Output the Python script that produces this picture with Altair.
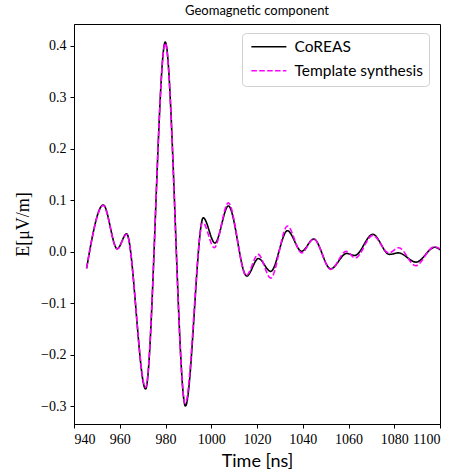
import altair as alt
import pandas as pd

# CoREAS (black solid) - read at extrema
t_coreas = [945.5, 952.8, 958.9, 963.0, 971.3, 979.9, 988.7, 996.5, 1001.6, 1007.5,
            1015.5, 1020.6, 1026.0, 1033.3, 1039.5, 1044.8, 1052.2, 1059.2, 1062.8,
            1070.6, 1077.9, 1081.8, 1089.5, 1097.8, 1100.0]
e_coreas = [-0.032, 0.091, 0.006, 0.035, -0.266, 0.407, -0.299, 0.066, 0.017, 0.089,
            -0.047, -0.013, -0.038, 0.041, 0.001, 0.025, -0.033, -0.003, -0.007,
            0.034, -0.005, -0.002, -0.020, 0.009, 0.004]

# Template synthesis (magenta dashed)
t_template = [945.5, 952.8, 958.9, 963.0, 971.3, 979.9, 988.6, 996.3, 1001.3, 1007.5,
              1015.3, 1020.5, 1026.0, 1033.3, 1039.5, 1044.8, 1052.2, 1059.0, 1063.0,
              1070.6, 1077.6, 1082.0, 1089.3, 1097.5, 1100.0]
e_template = [-0.032, 0.090, 0.005, 0.034, -0.263, 0.405, -0.294, 0.057, 0.008, 0.095,
              -0.046, -0.005, -0.051, 0.050, -0.002, 0.025, -0.034, 0.001, -0.012,
              0.032, -0.002, 0.008, -0.027, 0.010, 0.006]

series_names = ["CoREAS", "Template synthesis"]
x_ticks = [940, 960, 980, 1000, 1020, 1040, 1060, 1080, 1100]
y_ticks = [-0.3, -0.2, -0.1, 0.0, 0.1, 0.2, 0.3, 0.4]

df = pd.concat([
    pd.DataFrame({"t": t_coreas, "e": e_coreas, "series": series_names[0]}),
    pd.DataFrame({"t": t_template, "e": e_template, "series": series_names[1]}),
])

x_enc = alt.X("t:Q", scale=alt.Scale(domain=[940, 1100], nice=False, zero=False),
              axis=alt.Axis(values=x_ticks, title="Time [ns]", format="d"))
y_enc = alt.Y("e:Q", scale=alt.Scale(domain=[-0.334, 0.442], nice=False, zero=False),
              axis=alt.Axis(values=y_ticks, title="E[μV/m]", format=".1f",
                            titleFont="Liberation Serif", titleFontSize=18,
                            titlePadding=8))


def make_legend():
    return alt.Legend(title=None, orient="none", legendX=168, legendY=9,
                      symbolType="M-1,0H7", symbolSize=76.6,
                      symbolStrokeWidth=1.6,
                      labelFont="Lato", labelFontSize=15.5,
                      labelColor="#000000", labelOffset=31,
                      rowPadding=7, padding=6, cornerRadius=4,
                      strokeColor="#d0d0d0",
                      fillColor="rgba(255,255,255,0.85)")


color_enc = alt.Color("series:N",
                      scale=alt.Scale(domain=series_names, range=["#000000", "#ff00ff"]),
                      legend=make_legend())
dash_enc = alt.StrokeDash("series:N",
                          scale=alt.Scale(domain=series_names, range=[[1, 0], [5.5, 2.4]]),
                          legend=make_legend())

base = alt.Chart(df)
black = base.transform_filter(alt.datum.series == series_names[0]).mark_line(
    interpolate="monotone", strokeWidth=1.6).encode(x=x_enc, y=y_enc, color=color_enc, strokeDash=dash_enc)
magenta = base.transform_filter(alt.datum.series == series_names[1]).mark_line(
    interpolate="monotone", strokeWidth=1.6).encode(x=x_enc, y=y_enc, color=color_enc, strokeDash=dash_enc)

chart = alt.layer(black, magenta).properties(
    width=366, height=400,
    title=alt.TitleParams("Geomagnetic component", font="Lato", fontSize=13,
                          fontWeight="normal", color="#000000", offset=6),
    autosize=alt.AutoSizeParams(type="none"),
    padding={"left": 74, "top": 24, "right": 15, "bottom": 48},
).configure_view(stroke="#000000", strokeWidth=1).configure_axis(
    grid=False, domainColor="#000000", tickColor="#000000", tickSize=4,
    labelFont="Liberation Serif", labelFontSize=14, labelColor="#000000",
    titleFont="Lato", titleFontSize=18, titleFontWeight="normal", titleColor="#000000",
    labelPadding=4
).configure_axisX(titlePadding=6)

chart.save("out.html", embed_options={"renderer": "svg", "actions": False})
